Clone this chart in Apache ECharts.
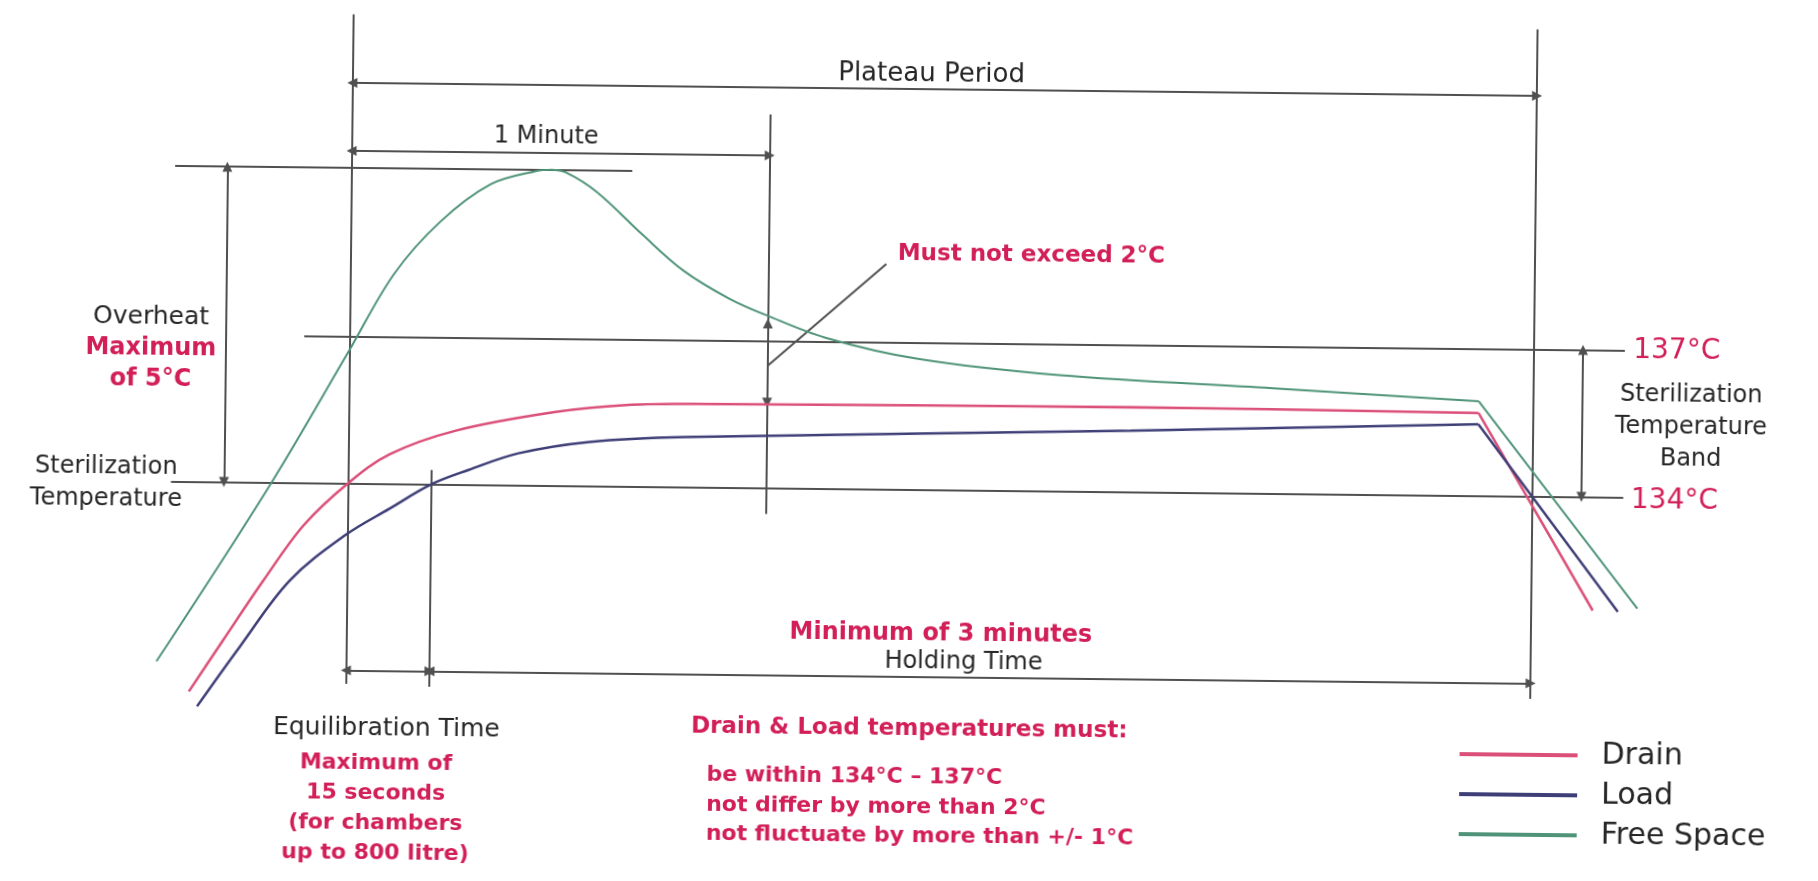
<!DOCTYPE html>
<html>
<head>
<meta charset="utf-8">
<title>Plateau Period</title>
<script src="https://cdn.jsdelivr.net/npm/echarts@6.0.0/dist/echarts.min.js"></script>
<style>
html,body{margin:0;padding:0;background:#fff;overflow:hidden;width:1818px;height:881px}
#chart{width:1818px;height:881px;transform:rotate(0.63deg);transform-origin:50% 50%}
</style>
</head>
<body>
<div id="chart"></div>
<script>
// ---- data (time in s, temperature in °C) ----
const seriesNames = ['Drain', 'Load', 'Free Space'];
const drainTime = [-22.5, -17.6, -12.0, -6.3, 0, 5.9, 15.4, 29.5, 39.7, 51.1, 112.2, 162.1, 178.8];
const drainTemp = [129.71, 130.78, 131.99, 133.13, 134.0, 134.6, 135.1, 135.5, 135.66, 135.70, 135.73, 135.69, 131.68];
const loadTime = [-21.3, -15.2, -8.2, -0.3, 6.0, 12.0, 17.3, 24.4, 34.6, 48.3, 112.2, 162.1, 182.4];
const loadTemp = [129.41, 130.65, 132.0, 132.94, 133.49, 134.0, 134.30, 134.65, 134.90, 135.02, 135.25, 135.46, 131.66];
const freeTime = [-27.2, -11.0, 0, 6.3, 12.8, 20.0, 26.5, 28.7, 30.9, 35.3, 41.9, 47.8, 54.4, 59.9, 68.3, 81.6, 101.9, 132.5, 162.1, 185.2];
const freeTemp = [130.32, 133.99, 136.72, 138.29, 139.36, 140.14, 140.42, 140.45, 140.39, 140.00, 139.14, 138.42, 137.86, 137.52, 137.08, 136.67, 136.37, 136.15, 135.93, 131.73];
const bandTemps = [134, 137];
const overheatPeakTemp = 140.44;
const phaseTimes = [0, 12, 60, 170];   // plateau start, equilibration end, +1 minute, holding end
const coolDownStart = 162.1;

// ---- styling ----
const FONT = 'DejaVu Sans';
const INK = '#262626', RED = '#d21f58', GUIDE = '#505050';
const colors = { 'Drain': '#db5079', 'Load': '#3f3f78', 'Free Space': '#4f9478' };
const widths = { 'Drain': 2.5, 'Load': 2.5, 'Free Space': 2 };

const pairs = (ts, vs) => ts.map((t, i) => [t, vs[i]]);
const curves = [
  ['Drain', pairs(drainTime, drainTemp)],
  ['Load', pairs(loadTime, loadTemp)],
  ['Free Space', pairs(freeTime, freeTemp)]
];

const curveSeries = [];
curves.forEach(([name, pts]) => {
  const k = pts.findIndex(p => p[0] >= coolDownStart);
  const ls = { color: colors[name], width: widths[name] };
  curveSeries.push({ type: 'line', name, data: pts.slice(0, k + 1), smooth: 0.35, symbol: 'none',
    lineStyle: ls, itemStyle: { color: colors[name] }, z: 4, silent: true });
  curveSeries.push({ type: 'line', name, data: pts.slice(k), smooth: false, symbol: 'none',
    lineStyle: ls, itemStyle: { color: colors[name] }, z: 4, silent: true });
});

const [tStart, tEquil, tMinute, tEnd] = phaseTimes;
const [tLow, tHigh] = bandTemps;
const seg = (a, b) => ({ coords: [a, b] });

const guideLines = [
  seg([tStart, 129.9], [tStart, 143.58]),
  seg([tEquil, 129.86], [tEquil, 134.29]),
  seg([tMinute, 133.47], [tMinute, 141.63]),
  seg([tEnd, 129.86], [tEnd, 143.54]),
  seg([-6.5, tHigh], [183, tHigh]),
  seg([-25.4, tLow], [183, tLow]),
  seg([-25.3, overheatPeakTemp], [40.3, overheatPeakTemp]),
  seg([76.9, 138.6], [tMinute, 136.49])
];
const dimLines = [
  seg([tStart, 142.18], [tEnd, 142.18]),
  seg([tStart, 140.79], [tMinute, 140.79]),
  seg([-17.8, overheatPeakTemp], [-17.8, tLow]),
  seg([tStart, 130.18], [tEquil, 130.18]),
  seg([tEquil, 130.18], [tEnd, 130.18]),
  seg([177, tHigh], [177, tLow])
];
const pointerLines = [
  seg([tMinute, 136.49], [tMinute, 137.36]),
  seg([tMinute, 136.49], [tMinute, 135.74])
];

const linesBase = { type: 'lines', coordinateSystem: 'cartesian2d', polyline: false, silent: true,
  lineStyle: { color: GUIDE, width: 2, opacity: 1, curveness: 0 }, z: 2 };

const k = (size, lh) => ({ fontFamily: FONT, fontSize: size, color: INK, lineHeight: lh || Math.round(size * 1.25) });
const r = (size, lh) => ({ fontFamily: FONT, fontSize: size, color: RED, fontWeight: 'bold', lineHeight: lh || Math.round(size * 1.25) });
function note(t, T, formatter, style, align) {
  return { value: [t, T], label: Object.assign({ show: true, position: 'inside', formatter, opacity: 1,
    align: align || 'center', verticalAlign: 'middle', textBorderWidth: 0 }, style) };
}
const notes = [
  note(83.1, 142.49, 'Plateau Period', k(26)),
  note(27.9, 141.12, '1 Minute', k(24)),
  note(-28.5, 136.72, '{a|Overheat}\n{b|Maximum}\n{b|of 5°C}',
    { rich: { a: Object.assign(k(25, 31), { align: 'center' }), b: Object.assign(r(24, 31), { align: 'center' }) } }),
  note(-34.7, 133.96, 'Sterilization\nTemperature', k(24, 32)),
  note(97.7, 138.81, 'Must not exceed 2°C', r(23)),
  note(184.2, tHigh, '137°C', Object.assign(k(28), { color: RED }), 'left'),
  note(184.1, 133.93, '134°C', Object.assign(k(28), { color: RED }), 'left'),
  note(192.6, 135.44, 'Sterilization\nTemperature\nBand', k(24, 32)),
  note(85.3, 131.05, 'Minimum of 3 minutes', r(24)),
  note(88.6, 130.48, 'Holding Time', k(24)),
  note(5.9, 128.99, 'Equilibration Time', k(25)),
  note(4.46, 127.37, 'Maximum of\n15 seconds\n(for chambers\nup to 800 litre)', r(22, 30)),
  note(49.6, 129.1, 'Drain & Load temperatures must:', r(23), 'left'),
  note(51.9, 127.51, 'be within 134°C – 137°C\nnot differ by more than 2°C\nnot fluctuate by more than +/- 1°C', r(22, 29.5), 'left')
];

const option = {
  animation: false,
  backgroundColor: '#ffffff',
  textStyle: { fontFamily: FONT },
  grid: { left: -8, top: -7, width: 1820, height: 900, containLabel: false },
  xAxis: { type: 'value', min: -50, max: 210, show: false },
  yAxis: { type: 'value', min: 126, max: 144, show: false },
  legend: {
    data: seriesNames, orient: 'vertical', left: 1463, top: 733, padding: 0,
    icon: 'rect', itemWidth: 118, itemHeight: 4, itemGap: 10, selectedMode: false,
    textStyle: { fontFamily: FONT, fontSize: 30, lineHeight: 30, color: INK, padding: [0, 0, 0, 19] }
  },
  series: [
    Object.assign({}, linesBase, { name: 'guides', data: guideLines, symbol: ['none', 'none'] }),
    Object.assign({}, linesBase, { name: 'dimensions', data: dimLines, symbol: ['triangle', 'triangle'], symbolSize: 10 }),
    Object.assign({}, linesBase, { name: 'pointers', data: pointerLines, symbol: ['none', 'triangle'], symbolSize: 10 }),
    ...curveSeries,
    { type: 'scatter', name: 'notes', data: notes, symbolSize: 1, silent: true, z: 5,
      itemStyle: { color: 'rgba(0,0,0,0)', opacity: 1 } }
  ]
};

const chart = echarts.init(document.getElementById('chart'));
chart.setOption(option);
</script>
</body>
</html>
